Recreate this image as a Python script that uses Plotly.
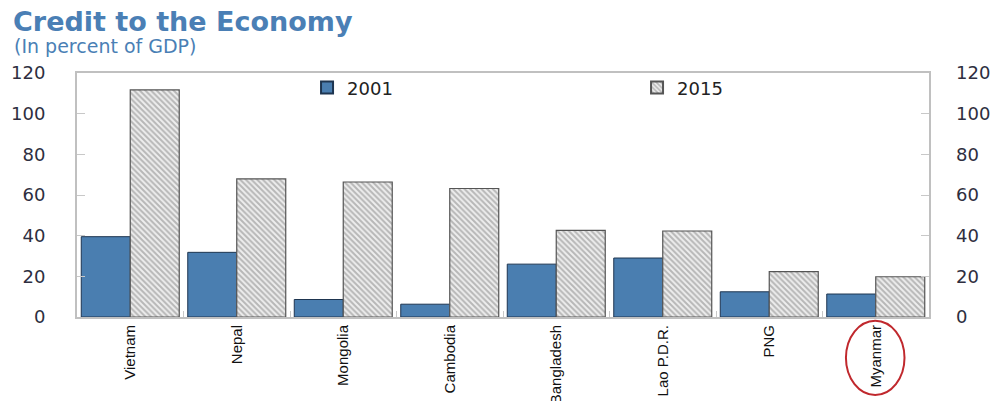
import plotly.graph_objects as go

countries = ["Vietnam", "Nepal", "Mongolia", "Cambodia", "Bangladesh", "Lao P.D.R.", "PNG", "Myanmar"]
credit_2001 = [39.5, 31.8, 8.6, 6.3, 26.0, 29.0, 12.4, 11.3]
credit_2015 = [111.7, 67.9, 66.4, 63.2, 42.6, 42.3, 22.3, 19.8]
y_ticks = [0, 20, 40, 60, 80, 100, 120]

fig = go.Figure()
fig.add_trace(go.Bar(
    name="2001", x=countries, y=credit_2001,
    marker=dict(color="#4a7eb0", line=dict(color="#1e3550", width=1)),
))
fig.add_trace(go.Bar(
    name="2015", x=countries, y=credit_2015,
    marker=dict(color="#e6e6e6", line=dict(color="#555555", width=1.2),
                pattern=dict(shape="\\", fgcolor="#808080", bgcolor="#eeeeee", size=4, solidity=0.5)),
))

tickfont = dict(family="DejaVu Sans", size=18, color="#2e2e40")
fig.update_layout(
    width=994, height=393,
    margin=dict(l=69, r=73, t=65, b=84, autoexpand=False),
    paper_bgcolor="white", plot_bgcolor="white",
    barmode="group", bargap=0.08, bargroupgap=0,
    showlegend=True,
    legend=dict(orientation="h", x=0.27, y=1.015, xanchor="left", yanchor="top",
                entrywidth=285, entrywidthmode="pixels",
                font=dict(family="DejaVu Sans", size=18, color="#222222"),
                bgcolor="rgba(0,0,0,0)", itemsizing="constant"),
    xaxis=dict(tickangle=-90, ticks="inside", tickson="boundaries", ticklen=6, tickcolor="#c8c8c8",
               showline=True, linecolor="#c0c0c0", linewidth=2, mirror=True, automargin=False,
               tickfont=dict(family="Liberation Sans", size=15, color="#111111")),
    yaxis=dict(range=[0, 120], tickvals=y_ticks, ticks="inside", ticklen=8, tickcolor="#c8c8c8",
               showgrid=False, zeroline=False, showline=True, linecolor="#c0c0c0", linewidth=2,
               mirror=True, tickfont=tickfont, ticklabelstandoff=26, automargin=False),
    yaxis2=dict(range=[0, 120], tickvals=y_ticks, overlaying="y", side="right", ticks="inside",
                ticklen=8, tickcolor="#c8c8c8", showgrid=False, zeroline=False, automargin=False,
                tickfont=tickfont, ticklabelstandoff=26, showline=False),
    annotations=[
        dict(text="<b>Credit to the Economy</b>", xref="paper", yref="paper", x=-0.078, y=1.21,
             xanchor="left", yanchor="middle", showarrow=False,
             font=dict(family="DejaVu Sans", size=27, color="#4a7fb5")),
        dict(text="(In percent of GDP)", xref="paper", yref="paper", x=-0.076, y=1.11,
             xanchor="left", yanchor="middle", showarrow=False,
             font=dict(family="DejaVu Sans", size=19, color="#4a7fb5")),
    ],
    shapes=[dict(type="circle", xref="x", yref="paper", x0=6.72, x1=7.27, y0=-0.015, y1=-0.32,
                 line=dict(color="#c0282d", width=2))],
)
fig.add_trace(go.Scatter(x=[countries[0]], y=[None], yaxis="y2", showlegend=False, hoverinfo="skip"))

fig.write_html("out.html")
